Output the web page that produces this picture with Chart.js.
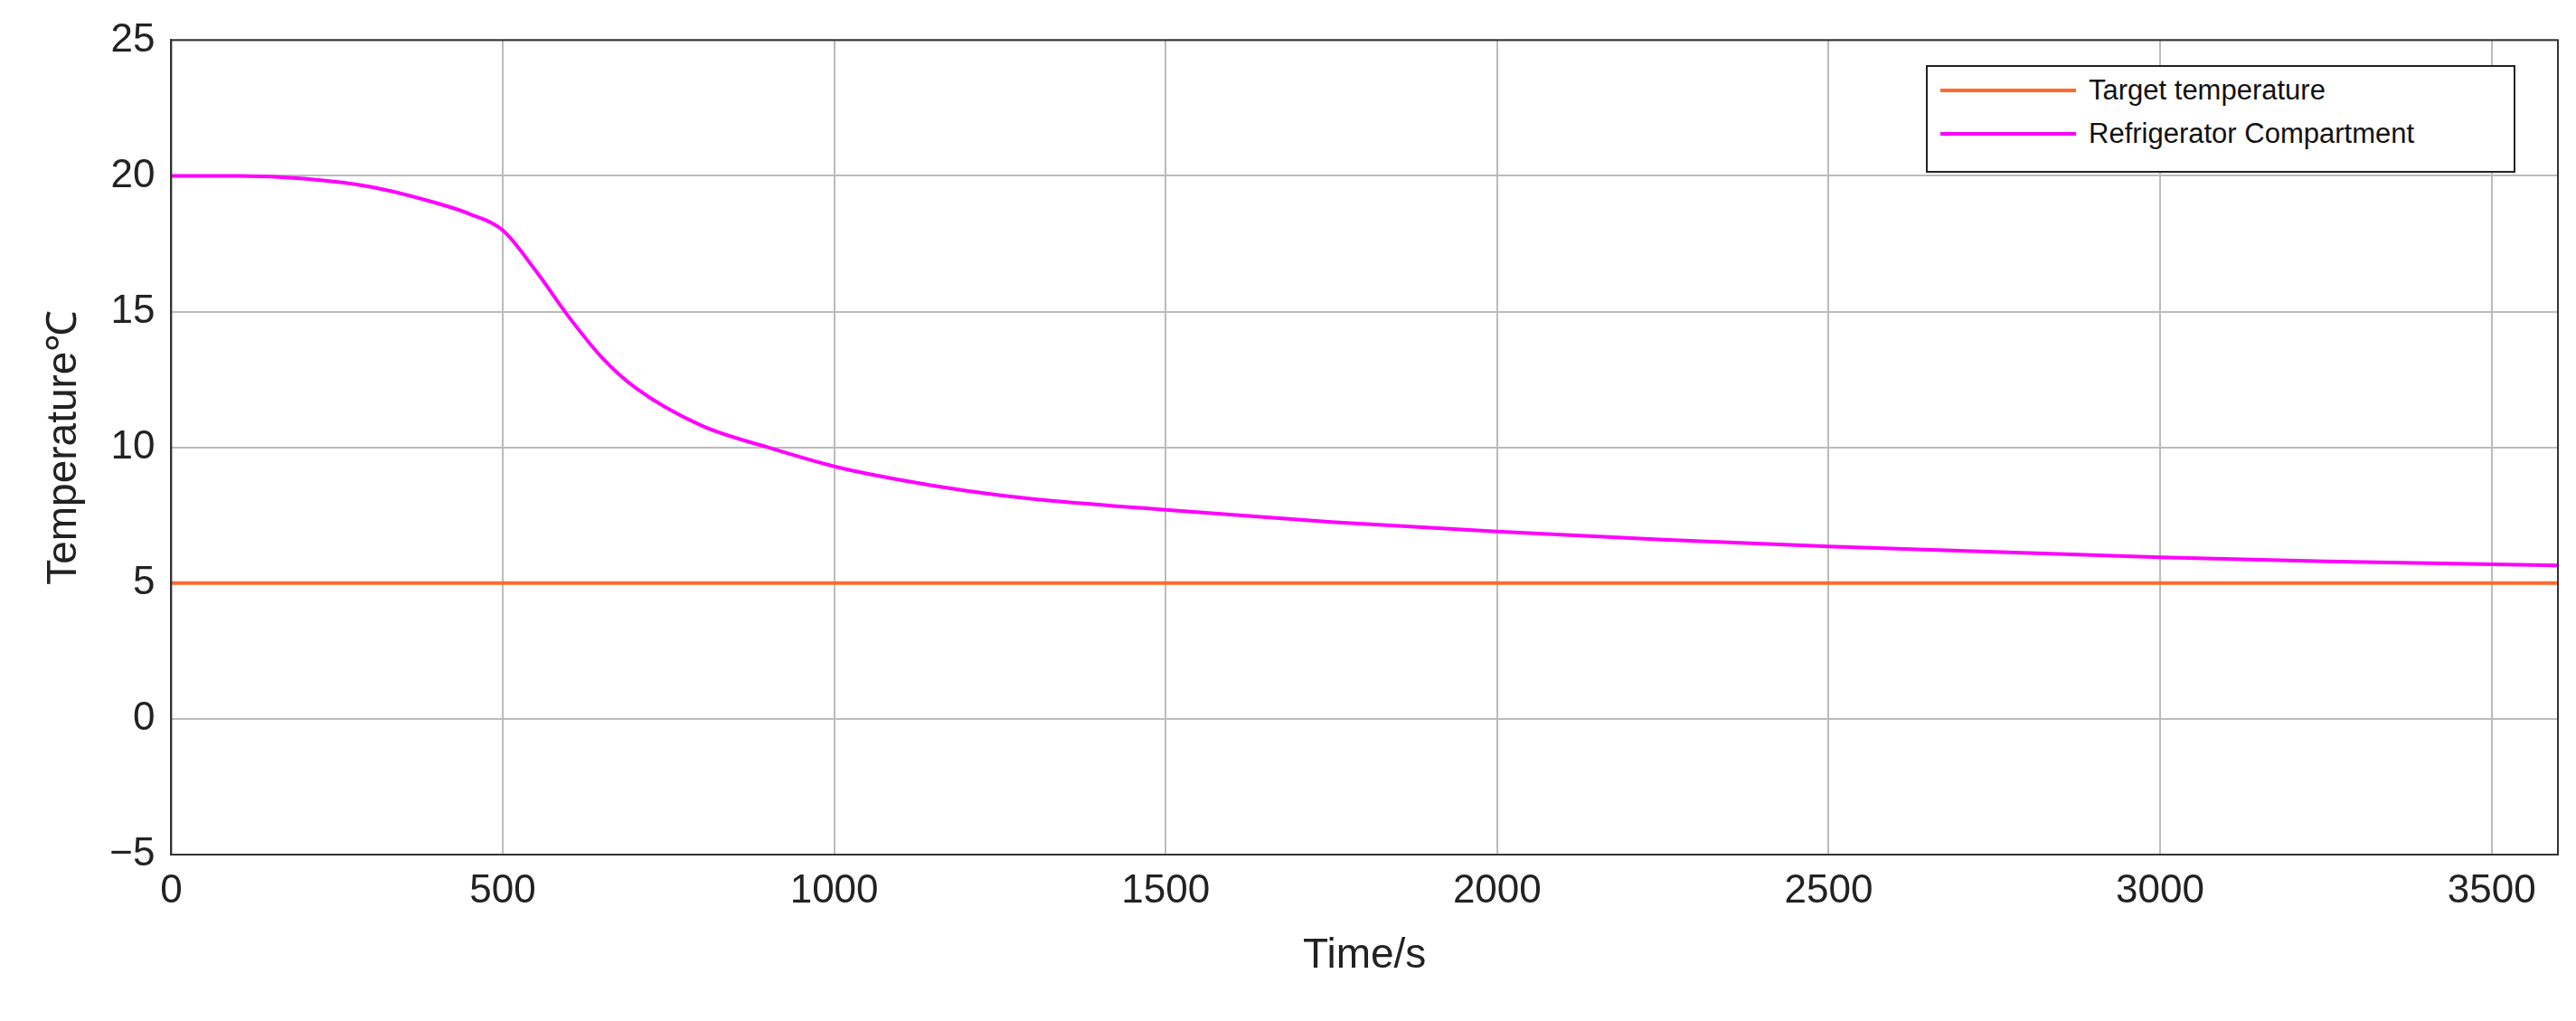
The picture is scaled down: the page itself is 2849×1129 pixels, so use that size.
<!DOCTYPE html>
<html>
<head>
<meta charset="utf-8">
<script src="https://cdn.jsdelivr.net/npm/chart.js@4"></script>
<style>
  body { margin: 0; background: #fff; font-family: "Liberation Sans", Arial, sans-serif; }
  #wrap { position: relative; width: 2849px; height: 1129px; }
  #legend { position: absolute; left: 2130px; top: 72px; width: 648px; height: 115px;
            border: 2px solid #222; background: #fff; font-size: 31px; color: #111; }
  .row { position: absolute; left: 14px; display: flex; align-items: center; }
  .sw { width: 150px; height: 4px; margin-right: 14px; }
</style>
</head>
<body>
<div id="wrap">
  <canvas id="chart" width="2849" height="1129"></canvas>
  <div id="legend">
    <div class="row" style="top:8px"><div class="sw" style="background:#ff6b2d"></div>Target temperature</div>
    <div class="row" style="top:56px"><div class="sw" style="background:#ff00ff"></div>Refrigerator Compartment</div>
  </div>
</div>
<script>
const times = [0, 100, 200, 300, 400, 450, 500, 550, 600, 650, 700, 800, 900, 1000, 1100, 1200, 1300, 1500, 1750, 2000, 2250, 2500, 2750, 3000, 3250, 3600];
const fridgeTemps = [20.0, 20.0, 19.9, 19.6, 19.0, 18.6, 18.0, 16.5, 14.8, 13.3, 12.2, 10.8, 10.0, 9.3, 8.8, 8.4, 8.1, 7.7, 7.25, 6.9, 6.6, 6.35, 6.15, 5.95, 5.8, 5.65];
const targetTimes = [0, 3600];
const targetTemps = [5, 5];
const xTicks = [0, 500, 1000, 1500, 2000, 2500, 3000, 3500];

const fridgeData = times.map((t, i) => ({ x: t, y: fridgeTemps[i] }));
const targetData = targetTimes.map((t, i) => ({ x: t, y: targetTemps[i] }));

const chart = new Chart(document.getElementById('chart'), {
    type: 'line',
    data: {
        datasets: [{
            label: 'Target temperature',
            data: targetData,
            borderColor: '#ff6b2d',
            borderWidth: 4,
            pointRadius: 0
        }, {
            label: 'Refrigerator Compartment',
            data: fridgeData,
            borderColor: '#ff00ff',
            borderWidth: 4,
            pointRadius: 0,
            cubicInterpolationMode: 'monotone'
        }]
    },
    options: {
        responsive: false,
        animation: false,
        layout: { padding: { left: 40, right: 20, top: 30, bottom: 40 } },
        plugins: { legend: { display: false }, tooltip: { enabled: false } },
        scales: {
            x: {
                type: 'linear', min: 0, max: 3600,
                afterBuildTicks: axis => { axis.ticks = xTicks.map(v => ({ value: v })); },
                ticks: { color: '#222', font: { size: 44, family: 'Liberation Sans' }, padding: 14,
                         autoSkip: false, maxRotation: 0, callback: v => String(v) },
                grid: { color: '#bbb', lineWidth: 2, tickLength: 0 },
                border: { color: '#333', width: 2 },
                title: { display: true, text: 'Time/s', color: '#222', font: { size: 46, family: 'Liberation Sans' } }
            },
            y: {
                min: -5, max: 25,
                ticks: { stepSize: 5, color: '#222', font: { size: 44, family: 'Liberation Sans' }, padding: 18,
                         callback: v => v < 0 ? '\u2212' + Math.abs(v) : v },
                grid: { color: '#bbb', lineWidth: 2, tickLength: 0 },
                border: { color: '#333', width: 2 },
                title: { display: true, text: 'Temperature\u2103', color: '#222', font: { size: 46, family: 'Liberation Sans' } }
            }
        }
    },
    plugins: [{
        id: 'frame',
        afterDraw(c) {
            const a = c.chartArea, ctx = c.ctx;
            ctx.save();
            ctx.strokeStyle = '#333';
            ctx.lineWidth = 2;
            ctx.strokeRect(a.left, a.top, a.right - a.left, a.bottom - a.top);
            ctx.restore();
        }
    }]
});
</script>
</body>
</html>
